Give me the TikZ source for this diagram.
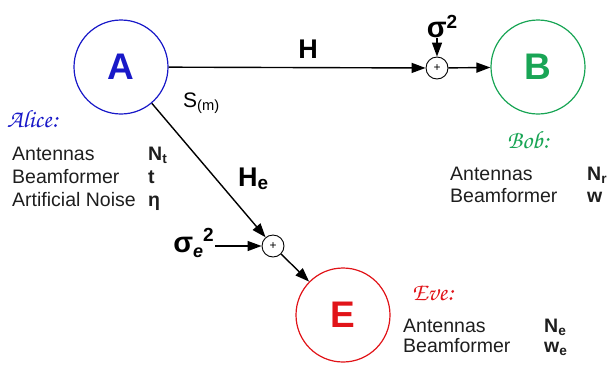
\documentclass[tikz,border=0pt]{standalone}
\usepackage[T1]{fontenc}
\usepackage{fontspec}
\setmainfont{Liberation Sans}
\usetikzlibrary{arrows.meta,positioning}

\definecolor{alicecol}{RGB}{25,25,200}
\definecolor{bobcol}{RGB}{25,165,85}
\definecolor{evecol}{RGB}{225,20,25}
\definecolor{textgray}{RGB}{30,30,30}

\newcommand{\partyname}{\fontencoding{T1}\fontfamily{pzc}\fontseries{mb}\fontshape{it}\selectfont}

\tikzset{
  party/.style={circle,draw,line width=1.2pt,minimum size=94pt,inner sep=0pt,
    font=\fontsize{37}{37}\selectfont\bfseries},
  adder/.style={circle,draw,line width=.9pt,minimum size=22pt,inner sep=0pt,
    font=\fontsize{12}{12}\selectfont},
  link/.style={line width=1.4pt,-{Triangle[length=14pt,width=10pt]}},
  info/.style={anchor=base west,inner sep=0pt,text=textgray,
    font=\fontsize{19.5}{19.5}\selectfont},
  infoval/.style={info,font=\fontsize{19.5}{19.5}\selectfont\bfseries},
  who/.style={anchor=base west,inner sep=0pt,font=\fontsize{25}{25}\partyname}
}

\begin{document}
\begin{tikzpicture}[x=1pt,y=-1pt]
    \useasboundingbox (0,0) rectangle (609,368);

    \node[party,draw=alicecol,text=alicecol] (A) at (121,67) {A};
    \node[party,draw=bobcol,text=bobcol] (B) at (538,67) {B};
    \node[party,draw=evecol,text=evecol] (E) at (343,315) {E};

    \node[adder] (s1) at (437,68) {+};
    \node[adder] (s2) at (273,246) {+};

    \node[anchor=base,inner sep=1pt,font=\fontsize{29}{29}\selectfont\bfseries] (n1) at (442,37)
      {σ\raisebox{9pt}{\fontsize{19}{19}\selectfont 2}};
    \node[anchor=base east,inner sep=1pt,font=\fontsize{29}{29}\selectfont\bfseries] (n2) at (215,252)
      {σ\raisebox{-5pt}{\fontsize{18}{18}\selectfont\itshape e}\raisebox{11pt}{\fontsize{19}{19}\selectfont 2}};

    \draw[link] (A) -- (s1);
    \draw[link] (s1) -- (B);
    \draw[link] (A) -- (s2);
    \draw[link] (s2) -- (E);
    \draw[link] (n1.south -| s1) -- (s1);
    \draw[link] (n2.east |- s2) -- (s2);

    \node[anchor=base,inner sep=0pt,font=\fontsize{27}{27}\selectfont\bfseries] (hab) at (308,58) {H};
    \node[anchor=base west,inner sep=0pt,font=\fontsize{21}{21}\selectfont] (sm) at (183,107)
      {S\textsubscript{(m)}};
    \node[anchor=base west,inner sep=0pt,font=\fontsize{27}{27}\selectfont\bfseries] (hae) at (238,186)
      {H\textsubscript{e}};

    % Alice
    \node[who,text=alicecol] (alice) at (7,127) {Alice:};
    \node[info] (aant) at (12,160) {Antennas};
    \node[info] (abf) at (12,183) {Beamformer};
    \node[info] (aan) at (12,206) {Artificial Noise};
    \node[infoval] (aantv) at (148,160) {N\textsubscript{t}};
    \node[infoval] (abfv) at (148,183) {t};
    \node[infoval] (aanv) at (148,206) {η};

    % Bob
    \node[who,text=bobcol] (bob) at (507,148) {Bob:};
    \node[info] (bant) at (450,180) {Antennas};
    \node[info] (bbf) at (450,202) {Beamformer};
    \node[infoval] (bantv) at (587,180) {N\textsubscript{r}};
    \node[infoval] (bbfv) at (587,202) {w};

    % Eve
    \node[who,text=evecol] (eve) at (412,300) {Eve:};
    \node[info] (eant) at (403,332) {Antennas};
    \node[info] (ebf) at (403,352) {Beamformer};
    \node[infoval] (eantv) at (544,332) {N\textsubscript{e}};
    \node[infoval] (ebfv) at (544,352) {w\textsubscript{e}};
\end{tikzpicture}
\end{document}
